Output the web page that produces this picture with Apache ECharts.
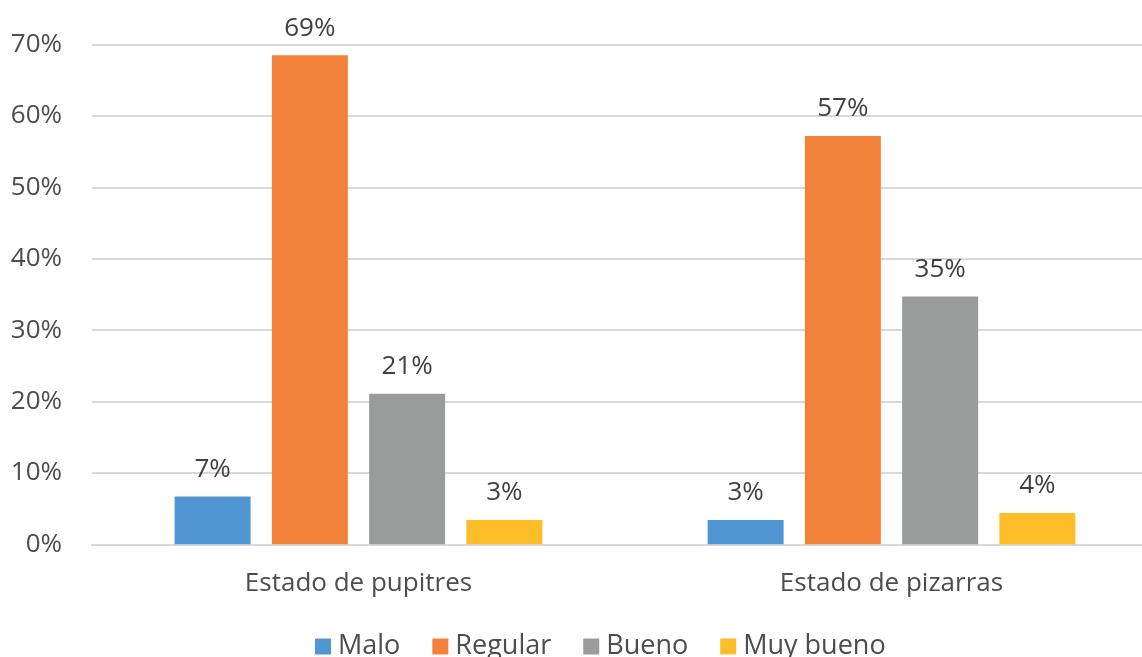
<!DOCTYPE html>
<html>
<head>
<meta charset="utf-8">
<script src="https://cdn.jsdelivr.net/npm/echarts@6/dist/echarts.min.js"></script>
<style>html,body{margin:0;padding:0;background:#fff}#c{width:1142px;height:657px}</style>
</head>
<body>
<div id="c"></div>
<script>
var categories = ['Estado de pupitres', 'Estado de pizarras'];
var seriesNames = ['Malo', 'Regular', 'Bueno', 'Muy bueno'];
var malo = [6.7, 3.4];
var regular = [68.5, 57.2];
var bueno = [21.1, 34.7];
var muyBueno = [3.4, 4.4];
var yTicks = [0, 10, 20, 30, 40, 50, 60, 70];
var colors = ['#5096D2', '#F2823A', '#9A9C9C', '#FEBE2A'];

var font = 'Open Sans';
var values = [malo, regular, bueno, muyBueno];
var chart = echarts.init(document.getElementById('c'), null, {renderer: 'canvas'});
chart.setOption({
  animation: false,
  textStyle: {fontFamily: font},
  grid: {left: 92, right: -16, top: 44.5, bottom: 112.7, containLabel: false, outerBoundsMode: 'none'},
  legend: {
    data: seriesNames,
    bottom: -8,
    left: 310,
    itemWidth: 16, itemHeight: 16, itemGap: 32,
    icon: 'rect',
    textStyle: {fontFamily: font, fontSize: 27, color: '#4D4D4D', padding: [0,0,0,2]}
  },
  xAxis: {
    type: 'category',
    data: categories,
    axisLine: {lineStyle: {color: '#D9D9D9', width: 2}},
    axisTick: {show: false},
    axisLabel: {fontFamily: font, fontSize: 26, color: '#4D4D4D', margin: 26}
  },
  yAxis: {
    type: 'value',
    min: yTicks[0], max: yTicks[yTicks.length - 1], interval: 10,
    axisLine: {show: false},
    axisTick: {show: false},
    splitLine: {lineStyle: {color: '#D9D9D9', width: 2}},
    axisLabel: {fontFamily: font, fontSize: 26, color: '#4D4D4D', margin: 30, formatter: '{value}%'}
  },
  series: seriesNames.map(function (n, i) {
    return {
      name: n,
      type: 'bar',
      data: values[i],
      barGap: '28%',
      barCategoryGap: '31%',
      itemStyle: {color: colors[i]},
      label: {
        show: true, position: 'top', distance: 14,
        fontFamily: font, fontSize: 26, color: '#404040',
        formatter: function (p) { return Math.round(p.value) + '%'; }
      }
    };
  })
});
</script>
</body>
</html>
